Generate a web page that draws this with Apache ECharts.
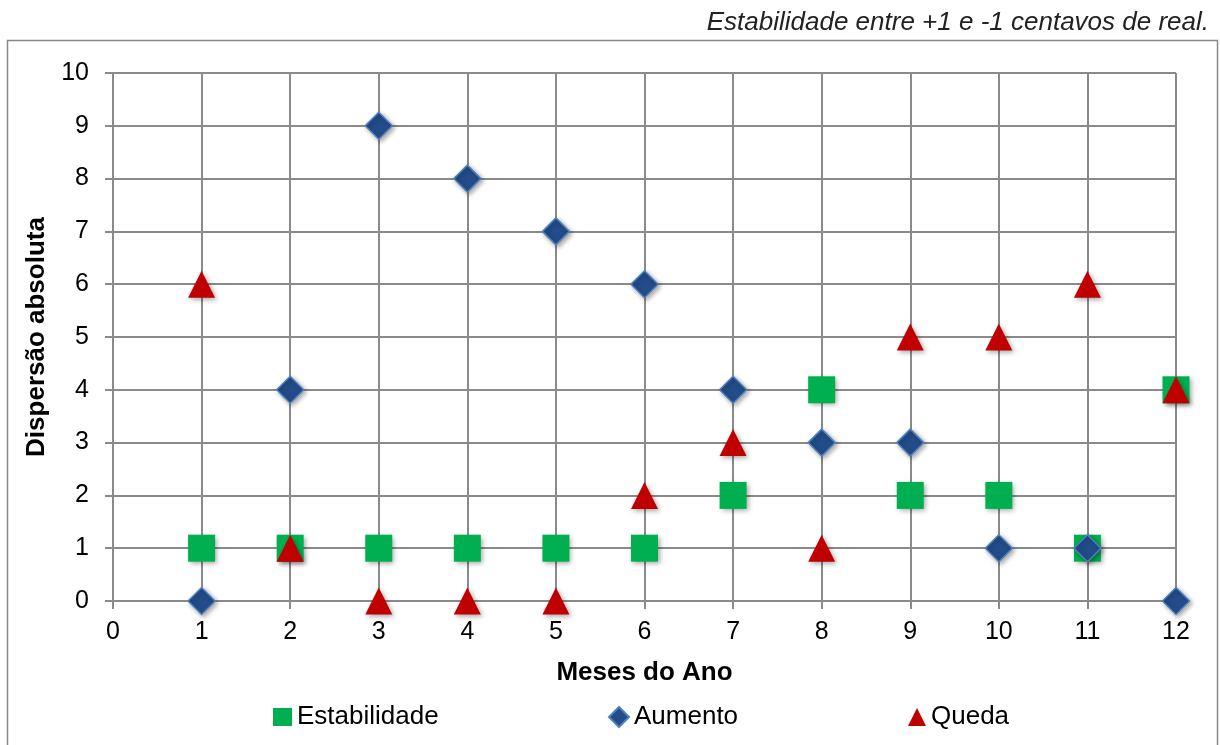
<!DOCTYPE html>
<html>
<head>
<meta charset="utf-8">
<script src="https://cdn.jsdelivr.net/npm/echarts@6/dist/echarts.min.js"></script>
<style>
  html, body { margin: 0; padding: 0; background: #fff; }
  #chart01 { width: 1220px; height: 745px; }
</style>
</head>
<body>
<div id="chart01"></div>
<script>
// dados
var meses = [1, 2, 3, 4, 5, 6, 7, 8, 9, 10, 11, 12];
var estabilidade = [1, 1, 1, 1, 1, 1, 2, 4, 2, 2, 1, 4];
var aumento = [0, 4, 9, 8, 7, 6, 4, 3, 3, 1, 1, 0];
var queda = [6, 1, 0, 0, 0, 2, 3, 1, 5, 5, 6, 4];

function pares(vals) {
    return meses.map(function (m, i) { return [m, vals[i]]; });
}

var sombra = {
    opacity: 1,
    shadowColor: 'rgba(0,0,0,0.35)',
    shadowBlur: 5,
    shadowOffsetX: 2,
    shadowOffsetY: 2
};

var fonte = 'Arial, "Liberation Sans", sans-serif';
var gridCor = '#8a8a8a';
var textoLegenda = { fontFamily: fonte, fontSize: 26, color: '#000' };

var myChart01 = echarts.init(document.getElementById('chart01'));
var option = {
    animation: false,
    title: {
        text: 'Estabilidade entre +1 e -1 centavos de real.',
        right: 6,
        top: 5,
        textStyle: { fontFamily: fonte, fontSize: 26, fontStyle: 'italic', fontWeight: 'normal', color: '#222' }
    },
    graphic: [{
        type: 'rect',
        shape: { x: 7.5, y: 40.5, width: 1210, height: 730 },
        style: { fill: 'none', stroke: '#888', lineWidth: 1.5 },
        silent: true
    }],
    legend: [
        { left: 273, top: 704, padding: 0, itemWidth: 19, itemHeight: 18, textStyle: textoLegenda, data: ['Estabilidade'] },
        { left: 608, top: 704, padding: 0, itemWidth: 20, itemHeight: 20, textStyle: textoLegenda, data: ['Aumento'] },
        { left: 908, top: 704, padding: 0, itemWidth: 18, itemHeight: 18, textStyle: textoLegenda, data: ['Queda'] }
    ],
    grid: { left: 113, right: 44, top: 73, bottom: 144 },
    xAxis: {
        type: 'value',
        min: 0,
        max: 12,
        interval: 1,
        name: 'Meses do Ano',
        nameLocation: 'middle',
        nameGap: 59,
        nameTextStyle: { fontFamily: fonte, fontSize: 26, fontWeight: 'bold', color: '#000' },
        axisLine: { show: true, onZero: false, lineStyle: { color: gridCor, width: 2 } },
        axisTick: { show: true, length: 8, lineStyle: { color: gridCor, width: 2 } },
        axisLabel: { margin: 19, fontFamily: fonte, fontSize: 25, color: '#000' },
        splitLine: { show: true, lineStyle: { color: gridCor, width: 2 } }
    },
    yAxis: {
        type: 'value',
        min: 0,
        max: 10,
        interval: 1,
        name: 'Dispersão absoluta',
        nameLocation: 'middle',
        nameGap: 62,
        nameTextStyle: { fontFamily: fonte, fontSize: 26, fontWeight: 'bold', color: '#000' },
        axisLine: { show: true, onZero: false, lineStyle: { color: gridCor, width: 2 } },
        axisTick: { show: true, length: 8, lineStyle: { color: gridCor, width: 2 } },
        axisLabel: { margin: 24, fontFamily: fonte, fontSize: 25, color: '#000' },
        splitLine: { show: true, lineStyle: { color: gridCor, width: 2 } }
    },
    series: [
        {
            name: 'Estabilidade',
            type: 'scatter',
            symbol: 'rect',
            symbolSize: 27,
            itemStyle: Object.assign({ color: '#00B050' }, sombra),
            data: pares(estabilidade)
        },
        {
            name: 'Aumento',
            type: 'scatter',
            symbol: 'diamond',
            symbolSize: 27,
            itemStyle: Object.assign({ color: '#234D8A', borderColor: '#4F81BD', borderWidth: 1.5 }, sombra),
            data: pares(aumento)
        },
        {
            name: 'Queda',
            type: 'scatter',
            symbol: 'triangle',
            symbolSize: 27,
            itemStyle: Object.assign({ color: '#C00000' }, sombra),
            data: pares(queda)
        }
    ]
};
myChart01.setOption(option);
</script>
</body>
</html>
